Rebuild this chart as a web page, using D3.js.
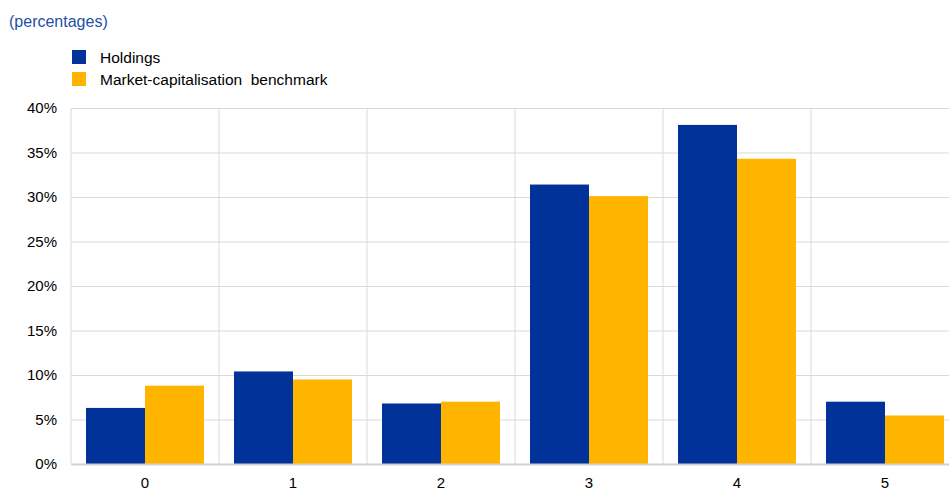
<!DOCTYPE html>
<html>
<head>
<meta charset="utf-8">
<script src="https://cdn.jsdelivr.net/npm/d3@7"></script>
<style>
  html, body { margin: 0; padding: 0; background: #fff; overflow: hidden; }
  svg text { font-family: "Liberation Sans", Arial, sans-serif; }
</style>
</head>
<body>
<div id="chart"></div>
<script>
const categories = ["0", "1", "2", "3", "4", "5"];
const seriesNames = ["Holdings", "Market-capitalisation  benchmark"];
const holdings = [6.3, 10.4, 6.8, 31.4, 38.1, 7.0];
const benchmark = [8.8, 9.5, 7.0, 30.1, 34.3, 5.45];
const yTicks = [0, 5, 10, 15, 20, 25, 30, 35, 40];
const colors = ["#003299", "#FFB400"];

const W = 949, H = 488;
const margin = { top: 108, left: 71, bottom: 24 };
const plotW = 148 * categories.length;
const plotH = H - margin.top - margin.bottom;

const svg = d3.select("#chart").append("svg")
    .attr("width", W).attr("height", H);

svg.append("text")
    .attr("x", 9).attr("y", 27)
    .style("font-size", "16px")
    .style("fill", "#2250a8")
    .text("(percentages)");

// legend
const legend = svg.append("g");
seriesNames.forEach((name, i) => {
    legend.append("rect")
        .attr("x", 72).attr("y", 50 + i * 22)
        .attr("width", 14).attr("height", 14)
        .attr("fill", colors[i]);
    legend.append("text")
        .attr("x", 100).attr("y", 63 + i * 22)
        .style("font-size", "15.5px")
        .style("white-space", "pre")
        .style("fill", "#000")
        .text(name);
});

const g = svg.append("g").attr("transform", `translate(${margin.left},${margin.top})`);

const x = d3.scaleBand().domain(categories).range([0, plotW]).paddingInner(0).paddingOuter(0);
const inner = d3.scaleBand().domain([0, 1]).range([15, 148 - 15]);
const y = d3.scaleLinear().domain([0, 40]).range([plotH, 0]);

// horizontal grid
g.append("g")
    .call(d3.axisLeft(y).tickValues(yTicks).tickSize(-plotW).tickFormat(""))
    .call(s => s.select(".domain").remove())
    .selectAll("line").attr("stroke", "#d9d9d9");

// vertical grid
g.append("g").selectAll("line")
    .data(categories)
    .enter().append("line")
    .attr("x1", d => x(d)).attr("x2", d => x(d))
    .attr("y1", 0).attr("y2", plotH)
    .attr("stroke", "#d9d9d9");

// y tick labels
g.append("g")
    .call(d3.axisLeft(y).tickValues(yTicks).tickSize(0).tickPadding(14).tickFormat(d => d + "%"))
    .call(s => s.select(".domain").remove())
    .selectAll("text")
    .style("font-size", "15px")
    .style("fill", "#000")
    .style("font-family", "Liberation Sans, Arial, sans-serif");

// bars
const data = categories.map((c, i) => ({ cat: c, vals: [holdings[i], benchmark[i]] }));
g.selectAll(".grp")
    .data(data)
    .enter().append("g")
    .attr("transform", d => `translate(${x(d.cat)},0)`)
    .selectAll("rect")
    .data(d => d.vals.map((v, k) => ({ k, v })))
    .enter().append("rect")
    .attr("x", d => inner(d.k))
    .attr("width", inner.bandwidth())
    .attr("y", d => y(d.v))
    .attr("height", d => plotH - y(d.v))
    .attr("fill", d => colors[d.k]);

// x axis
g.append("g")
    .attr("transform", `translate(0,${plotH})`)
    .call(d3.axisBottom(x).tickSize(0).tickPadding(13))
    .call(s => s.select(".domain").attr("stroke", "#d0d0d0").attr("stroke-width", 2))
    .selectAll("text")
    .style("font-size", "15px")
    .style("fill", "#000")
    .style("font-family", "Liberation Sans, Arial, sans-serif");
</script>
</body>
</html>
